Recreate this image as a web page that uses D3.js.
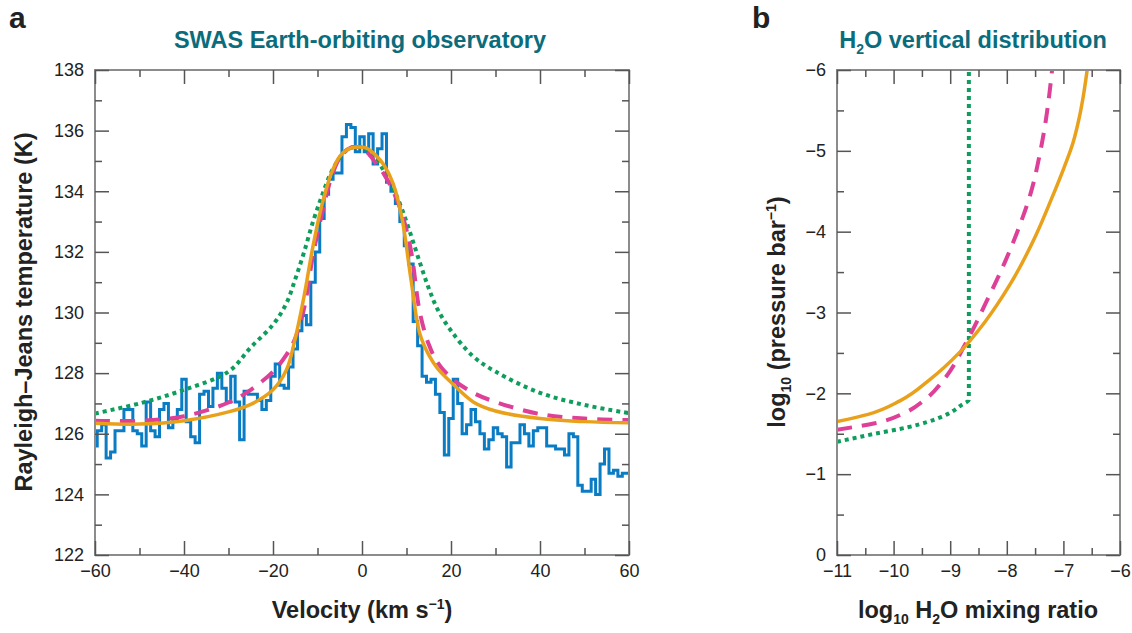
<!DOCTYPE html>
<html><head><meta charset="utf-8">
<script src="https://cdn.jsdelivr.net/npm/d3@7"></script>
<style>
html,body{margin:0;padding:0;background:#fff;}
svg{display:block;font-family:"Liberation Sans",Arial,sans-serif;}
.tick text{font-size:18px;fill:#222;font-family:"Liberation Sans",Arial,sans-serif;}
.tick line{stroke:#555;stroke-width:1.5;}
</style></head>
<body>
<script>
// ---------- DATA ----------
// Panel a: observed SWAS spectrum (1 km/s channels)
const velocity = [-60,-59,-58,-57,-56,-55,-54,-53,-52,-51,-50,-49,-48,-47,-46,-45,-44,-43,-42,-41,
 -40,-39,-38,-37,-36,-35,-34,-33,-32,-31,-30,-29,-28,-27,-26,-25,-24,-23,-22,-21,
 -20,-19,-18,-17,-16,-15,-14,-13,-12,-11,-10,-9,-8,-7,-6,-5,-4,-3,-2,-1,
 0,1,2,3,4,5,6,7,8,9,10,11,12,13,14,15,16,17,18,19,
 20,21,22,23,24,25,26,27,28,29,30,31,32,33,34,35,36,37,38,39,
 40,41,42,43,44,45,46,47,48,49,50,51,52,53,54,55,56,57,58,59,60];
const observedT = [125.6,126.1,126.3,125.2,125.4,126.1,126.1,126.8,126.8,126.1,126.0,125.6,127.05,126.1,125.9,126.8,127.0,126.2,126.5,126.8,
 127.8,126.4,125.9,125.7,127.3,127.4,126.9,127.5,128.0,127.5,127.05,127.9,127.05,125.8,127.4,127.3,127.3,127.1,126.8,127.1,
 127.9,128.3,127.6,127.5,128.2,128.8,129.4,129.9,129.6,131.0,132.0,133.1,133.9,134.4,134.6,134.6,135.8,136.2,136.1,135.3,
 135.8,135.3,135.9,134.9,135.4,135.9,134.3,134.0,133.6,133.0,132.2,131.6,129.7,128.9,127.9,127.7,127.8,127.3,126.7,125.3,
 126.5,127.8,127.0,126.0,126.3,126.8,126.4,126.0,125.5,125.8,126.2,126.0,125.9,124.9,125.7,125.7,126.3,126.0,125.6,126.1,
 126.2,126.2,125.6,125.6,125.5,125.5,125.3,126.0,125.9,124.3,124.1,124.1,124.5,124.0,125.0,125.5,124.7,124.8,124.6,124.7,124.7];

// Panel a: model spectra
const modelVelocity = [-60,-50,-40,-30,-25,-20,-17,-15,-13,-11,-9,-7,-5,-3,-1,1,3,5,7,9,11,13,15,17,20,25,30,40,50,60];
const modelGreenT   = [126.67,127.0,127.45,128.05,128.85,129.6,130.3,131.1,132.0,133.0,133.85,134.6,135.1,135.4,135.47,135.4,135.1,134.65,134.1,133.4,132.55,131.65,130.8,130.1,129.4,128.55,128.05,127.35,126.95,126.68];
const modelMagentaT = [126.43,126.43,126.58,127.03,127.45,128.05,128.6,129.15,130.15,131.9,133.25,134.4,135.1,135.4,135.46,135.3,134.95,134.55,134.0,133.25,132.05,130.0,128.95,128.35,127.85,127.35,127.05,126.65,126.5,126.45];
const modelOrangeT  = [126.35,126.32,126.43,126.72,126.97,127.45,128.1,129.15,130.55,132.2,133.55,134.55,135.15,135.4,135.46,135.42,135.2,134.85,134.25,133.1,131.1,129.3,128.6,128.15,127.7,127.05,126.75,126.5,126.4,126.36];

const aXTicks = [-60,-40,-20,0,20,40,60];
const aYTicks = [122,124,126,128,130,132,134,136,138];

// Panel b: H2O vertical profiles (log10 mixing ratio, log10 pressure)
const greenMix    = [-11.0,-10.33,-9.75,-9.15,-8.79,-8.67,-8.67];
const greenLogP   = [-1.40,-1.50,-1.58,-1.71,-1.86,-1.92,-6.0];
const magentaMix  = [-11.0,-10.33,-9.80,-9.45,-9.09,-8.74,-8.39,-8.03,-7.77,-7.56,-7.42,-7.31,-7.24,-7.20];
const magentaLogP = [-1.55,-1.63,-1.76,-1.92,-2.19,-2.60,-3.09,-3.63,-4.08,-4.52,-4.95,-5.38,-5.75,-6.0];
const orangeMix   = [-11.0,-10.45,-9.88,-9.36,-8.83,-8.39,-7.94,-7.49,-7.22,-6.99,-6.83,-6.72,-6.65,-6.58];
const orangeLogP  = [-1.65,-1.74,-1.91,-2.17,-2.51,-2.88,-3.35,-3.95,-4.39,-4.79,-5.10,-5.41,-5.67,-6.0];

const bXTicks = [-11,-10,-9,-8,-7,-6];
const bYTicks = [-6,-5,-4,-3,-2,-1,0];

// ---------- STYLE ----------
const C = {blue:"#0a7cc4", orange:"#e9a11b", magenta:"#de3f97", green:"#0e9e5c", teal:"#0b6c7c", frame:"#8c8c8c"};

const W = 1132, H = 633;
const svg = d3.select("body").append("svg").attr("width", W).attr("height", H);
const fmt = v => (v < 0 ? "\u2212" : "") + Math.abs(v);

function frame(g, x0, x1, y0, y1){
  g.append("rect").attr("x", x0).attr("y", y0).attr("width", x1-x0).attr("height", y1-y0)
   .attr("fill","none").attr("stroke", C.frame).attr("stroke-width", 2);
}
function axes(x, y, majorX, minorX, majorY, minorY){
  const [x0,x1] = x.range(), [y1,y0] = y.range();
  const g = svg.append("g");
  const noDom = s => s.select(".domain").remove();
  g.append("g").attr("transform",`translate(0,${y1})`)
    .call(d3.axisBottom(x).tickValues(majorX).tickSizeInner(-14).tickSizeOuter(0).tickPadding(9).tickFormat(fmt)).call(noDom);
  g.append("g").attr("transform",`translate(0,${y1})`)
    .call(d3.axisBottom(x).tickValues(minorX).tickSizeInner(-7).tickSizeOuter(0).tickFormat("")).call(noDom);
  g.append("g").attr("transform",`translate(0,${y0})`)
    .call(d3.axisTop(x).tickValues(majorX).tickSizeInner(-14).tickSizeOuter(0).tickFormat("")).call(noDom);
  g.append("g").attr("transform",`translate(0,${y0})`)
    .call(d3.axisTop(x).tickValues(minorX).tickSizeInner(-7).tickSizeOuter(0).tickFormat("")).call(noDom);
  g.append("g").attr("transform",`translate(${x0},0)`)
    .call(d3.axisLeft(y).tickValues(majorY).tickSizeInner(-14).tickSizeOuter(0).tickPadding(11).tickFormat(fmt)).call(noDom);
  g.append("g").attr("transform",`translate(${x0},0)`)
    .call(d3.axisLeft(y).tickValues(minorY).tickSizeInner(-7).tickSizeOuter(0).tickFormat("")).call(noDom);
  g.append("g").attr("transform",`translate(${x1},0)`)
    .call(d3.axisRight(y).tickValues(majorY).tickSizeInner(-14).tickSizeOuter(0).tickFormat("")).call(noDom);
  g.append("g").attr("transform",`translate(${x1},0)`)
    .call(d3.axisRight(y).tickValues(minorY).tickSizeInner(-7).tickSizeOuter(0).tickFormat("")).call(noDom);
  g.selectAll(".tick text").attr("font-size",18).attr("fill","#222");
  return g;
}

// ---------- PANEL A ----------
const xa = d3.scaleLinear().domain([-60,60]).range([95,629]);
const ya = d3.scaleLinear().domain([122,138]).range([555,70]);
const aMinorX = [-50,-30,-10,10,30,50];
const aMinorY = [123,125,127,129,131,133,135,137];

const defs = svg.append("defs");
defs.append("clipPath").attr("id","clipA")
  .append("rect").attr("x",95).attr("y",70).attr("width",534).attr("height",485);

const gA = svg.append("g").attr("clip-path","url(#clipA)");
gA.append("path")
  .datum(velocity.map((v,i)=>[v, observedT[i]]))
  .attr("fill","none").attr("stroke",C.blue).attr("stroke-width",3)
  .attr("d", d3.line().x(d=>xa(d[0])).y(d=>ya(d[1])).curve(d3.curveStep));

const lineA = d3.line().x(d=>xa(d[0])).y(d=>ya(d[1])).curve(d3.curveCatmullRom.alpha(0.5));
gA.append("path").datum(modelVelocity.map((v,i)=>[v, modelGreenT[i]]))
  .attr("fill","none").attr("stroke",C.green).attr("stroke-width",4).attr("stroke-dasharray","4,4")
  .attr("d", lineA);
gA.append("path").datum(modelVelocity.map((v,i)=>[v, modelMagentaT[i]]))
  .attr("fill","none").attr("stroke",C.magenta).attr("stroke-width",4).attr("stroke-dasharray","15,10")
  .attr("d", lineA);
gA.append("path").datum(modelVelocity.map((v,i)=>[v, modelOrangeT[i]]))
  .attr("fill","none").attr("stroke",C.orange).attr("stroke-width",3.5)
  .attr("d", lineA);

frame(svg, 95, 629, 70, 555);
axes(xa, ya, aXTicks, aMinorX, aYTicks, aMinorY);

// ---------- PANEL B ----------
const xb = d3.scaleLinear().domain([-11,-6]).range([837,1120]);
const yb = d3.scaleLinear().domain([0,-6]).range([555,70]);
const bMinorX = [-10.5,-9.5,-8.5,-7.5,-6.5];
const bMinorY = [-5.5,-4.5,-3.5,-2.5,-1.5,-0.5];

defs.append("clipPath").attr("id","clipB")
  .append("rect").attr("x",837).attr("y",70).attr("width",283).attr("height",485);
const gB = svg.append("g").attr("clip-path","url(#clipB)");
const lineB = d3.line().x(d=>xb(d[0])).y(d=>yb(d[1])).curve(d3.curveMonotoneY);
gB.append("path").datum(greenMix.map((m,i)=>[m, greenLogP[i]]))
  .attr("fill","none").attr("stroke",C.green).attr("stroke-width",4).attr("stroke-dasharray","4,4")
  .attr("d", lineB);
gB.append("path").datum(magentaMix.map((m,i)=>[m, magentaLogP[i]]))
  .attr("fill","none").attr("stroke",C.magenta).attr("stroke-width",4).attr("stroke-dasharray","15,10")
  .attr("d", lineB);
gB.append("path").datum(orangeMix.map((m,i)=>[m, orangeLogP[i]]))
  .attr("fill","none").attr("stroke",C.orange).attr("stroke-width",3.5)
  .attr("d", lineB);

frame(svg, 837, 1120, 70, 555);
axes(xb, yb, bXTicks, bMinorX, bYTicks, bMinorY);

// ---------- TEXT ----------
svg.append("text").attr("x",9).attr("y",28).attr("font-size",30).attr("font-weight","bold").attr("fill","#222").text("a");
svg.append("text").attr("x",752).attr("y",28).attr("font-size",30).attr("font-weight","bold").attr("fill","#222").text("b");

svg.append("text").attr("x",360).attr("y",48).attr("text-anchor","middle").attr("font-size",23.5)
  .attr("font-weight","bold").attr("fill",C.teal).text("SWAS Earth-orbiting observatory");

const tb = svg.append("text").attr("x",973).attr("y",48).attr("text-anchor","middle").attr("font-size",23.5)
  .attr("font-weight","bold").attr("fill",C.teal);
tb.append("tspan").text("H");
tb.append("tspan").attr("font-size",14).attr("dy",6).text("2");
tb.append("tspan").attr("dy",-6).text("O vertical distribution");

const xla = svg.append("text").attr("x",362).attr("y",618).attr("text-anchor","middle").attr("font-size",23.5)
  .attr("font-weight","bold").attr("fill","#222");
xla.append("tspan").text("Velocity (km s");
xla.append("tspan").attr("font-size",14).attr("dy",-9).text("\u22121");
xla.append("tspan").attr("dy",9).text(")");

svg.append("text").attr("transform","translate(32,312) rotate(-90)").attr("text-anchor","middle")
  .attr("font-size",23.5).attr("font-weight","bold").attr("fill","#222").text("Rayleigh–Jeans temperature (K)");

const xlb = svg.append("text").attr("x",978).attr("y",618).attr("text-anchor","middle").attr("font-size",23.5)
  .attr("font-weight","bold").attr("fill","#222");
xlb.append("tspan").text("log");
xlb.append("tspan").attr("font-size",14).attr("dy",6).text("10");
xlb.append("tspan").attr("dy",-6).text(" H");
xlb.append("tspan").attr("font-size",14).attr("dy",6).text("2");
xlb.append("tspan").attr("dy",-6).text("O mixing ratio");

const ylb = svg.append("text").attr("transform","translate(785,312) rotate(-90)").attr("text-anchor","middle")
  .attr("font-size",23.5).attr("font-weight","bold").attr("fill","#222");
ylb.append("tspan").text("log");
ylb.append("tspan").attr("font-size",14).attr("dy",6).text("10");
ylb.append("tspan").attr("dy",-6).text(" (pressure bar");
ylb.append("tspan").attr("font-size",14).attr("dy",-9).text("\u22121");
ylb.append("tspan").attr("dy",9).text(")");
</script>
</body></html>
